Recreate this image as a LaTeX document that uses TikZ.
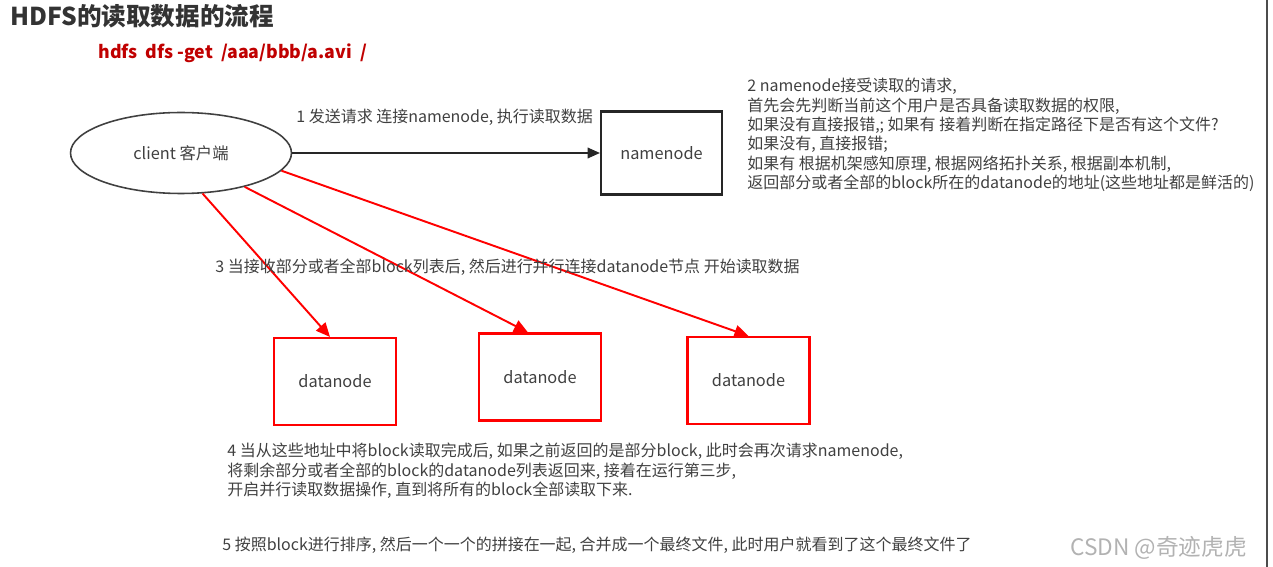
\documentclass[tikz,border=0pt]{standalone}
\usepackage{fontspec}
\setmainfont{Noto Sans CJK SC}
\usetikzlibrary{shapes.geometric,arrows.meta,calc}
\definecolor{txt}{HTML}{404040}
\definecolor{cmdred}{HTML}{C00000}
\begin{document}
\begin{tikzpicture}[x=0.02cm,y=-0.02cm,
    every node/.style={text=txt,font=\fontsize{9.1}{11}\selectfont},
    txtnode/.style={anchor=west,inner sep=0pt,align=left},
    boxtext/.style={font=\fontsize{9.3}{11}\selectfont},
    namebox/.style={boxtext,draw=black!85,line width=1.2pt,minimum width=2.42cm,minimum height=1.66cm,inner sep=0pt},
    databox/.style={boxtext,draw=red,line width=1.2pt,minimum width=2.44cm,minimum height=1.74cm,inner sep=0pt},
    blackarrow/.style={draw=black!85,line width=1pt,-{Triangle[length=7pt,width=6pt]}},
    redarrow/.style={draw=red,line width=1.1pt,-{Triangle[length=8pt,width=7pt]}}]
        \useasboundingbox (0,0) rectangle (1273,567);
        \node[anchor=north west,inner sep=0pt,text=black!80,font=\bfseries\fontsize{14}{16}\selectfont] at (10,4) (title) {HDFS的读取数据的流程};
        \node[anchor=west,inner sep=0pt,text=cmdred,font=\bfseries\fontsize{10.1}{12}\selectfont] at (98,53) (cmd) {hdfs\ \ dfs -get\ \ /aaa/bbb/a.avi\ \ /};
        \node[ellipse,boxtext,draw=black!75,line width=0.9pt,minimum width=4.42cm,minimum height=1.62cm] at (181,153) (client) {client 客户端};
        \node[namebox] at (661.5,153) (nn) {namenode};
        \node[databox] at (335,381.5) (dn1) {datanode};
        \node[databox] at (540,377) (dn2) {datanode};
        \node[databox] at (748.5,380.5) (dn3) {datanode};
        \draw[blackarrow] (client) -- (nn);
        \draw[redarrow] (client.-62) -- ($(dn1.north)+(-5,0)$);
        \draw[redarrow] (client.-28) -- ($(dn2.north)+(-12,0)$);
        \draw[redarrow] (client.-10) -- (dn3.north);
        \node[txtnode] at (296,117) (s1) {1 发送请求 连接namenode, 执行读取数据};
        \node[txtnode,anchor=north west] at (747,78) (s2) {2 namenode接受读取的请求,\\首先会先判断当前这个用户是否具备读取数据的权限,\\如果没有直接报错,; 如果有 接着判断在指定路径下是否有这个文件?\\如果没有, 直接报错;\\如果有 根据机架感知原理, 根据网络拓扑关系, 根据副本机制,\\返回部分或者全部的block所在的datanode的地址(这些地址都是鲜活的)};
        \node[txtnode] at (215,267) (s3) {3 当接收部分或者全部block列表后, 然后进行并行连接datanode节点 开始读取数据};
        \node[txtnode,anchor=north west] at (227,443) (s4) {4 当从这些地址中将block读取完成后, 如果之前返回的是部分block, 此时会再次请求namenode,\\将剩余部分或者全部的block的datanode列表返回来, 接着在运行第三步,\\开启并行读取数据操作, 直到将所有的block全部读取下来.};
        \node[txtnode] at (222,545) (s5) {5 按照block进行排序, 然后一个一个的拼接在一起, 合并成一个最终文件, 此时用户就看到了这个最终文件了};
        \node[anchor=west,inner sep=0pt,text=black!30,font=\fontsize{12.9}{14}\selectfont] at (1070,548) (mark) {CSDN @奇迹虎虎};
        % right edge
        \draw[black!70,line width=1pt] (1267,0) -- (1267,567);
\end{tikzpicture}
\end{document}
